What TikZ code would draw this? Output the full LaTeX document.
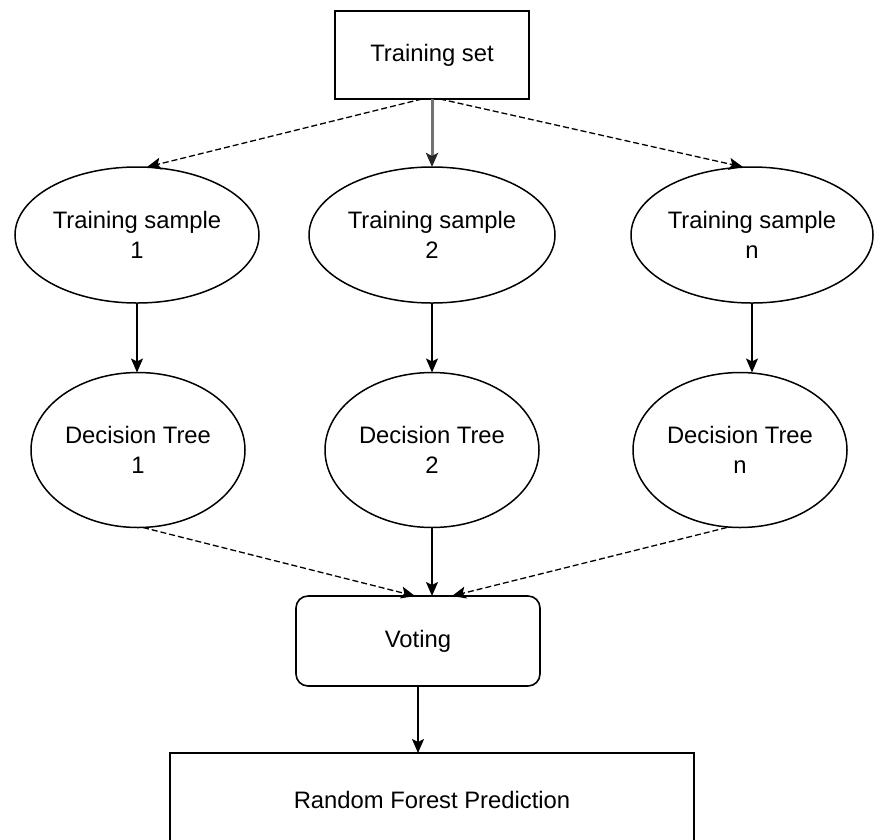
\documentclass[tikz,border=0pt]{standalone}
\usepackage{fontspec}
\setmainfont{Liberation Sans}
\usetikzlibrary{shapes.geometric,arrows.meta}
\begin{document}
\begin{tikzpicture}[x=1pt,y=-1pt,
  every node/.style={font=\fontsize{23.8}{30}\selectfont, align=center, inner sep=0pt, outer sep=0pt},
  boxnode/.style={draw, line width=1.8pt, rectangle},
  ellnode/.style={draw, line width=1.5pt, ellipse},
  tip/.style={-{Stealth[length=14pt,width=12pt,inset=3pt]}},
  dasharrow/.style={tip, line width=1.3pt, dash pattern=on 6pt off 3pt},
  solidarrow/.style={tip, line width=1.4pt},
  grayarrow/.style={-{Stealth[length=14pt,width=12pt,inset=3pt,color=black!85]}, line width=3pt, draw=black!55}
]
\clip (0,0) rectangle (874,839);
\useasboundingbox (0,0) rectangle (874,839);
\fill[white] (0,0) rectangle (874,839);

\node[boxnode, minimum width=194pt, minimum height=88pt] (ts) at (432,55) {Training set};

\node[ellnode, minimum width=244pt, minimum height=136pt] (s1) at (137,235) {Training sample\\1};
\node[ellnode, minimum width=246pt, minimum height=136pt] (s2) at (432,235) {Training sample\\2};
\node[ellnode, minimum width=242pt, minimum height=136pt] (sn) at (752,235) {Training sample\\n};

\node[ellnode, minimum width=214pt, minimum height=155pt] (d1) at (138,450) {Decision Tree\\1};
\node[ellnode, minimum width=214pt, minimum height=155pt] (d2) at (432,450) {Decision Tree\\2};
\node[ellnode, minimum width=214pt, minimum height=155pt] (dn) at (740,450) {Decision Tree\\n};

\node[boxnode, rounded corners=12pt, line width=1.6pt, minimum width=244pt, minimum height=90pt] (vote) at (418,641) {Voting};

\node[boxnode, minimum width=524pt, minimum height=94pt] (rf) at (432,800) {Random Forest Prediction};

% training set to samples
\draw[dasharrow] ([xshift=-10pt]ts.south) -- ([xshift=10pt]s1.north);
\draw[grayarrow] (ts.south) -- (s2.north);
\draw[dasharrow] ([xshift=8pt]ts.south) -- ([xshift=-9pt]sn.north);

% samples to trees
\draw[solidarrow] (s1.south) -- (s1.south |- d1.north);
\draw[solidarrow] (s2.south) -- (d2.north);
\draw[solidarrow] (sn.south) -- (sn.south |- dn.north);

% trees to voting
\draw[dasharrow] ([xshift=5pt]d1.south) -- ([xshift=-3pt]vote.north);
\draw[solidarrow] (d2.south) -- (d2.south |- vote.north);
\draw[dasharrow] ([xshift=-13pt]dn.south) -- ([xshift=34pt]vote.north);

% voting to prediction
\draw[solidarrow] (vote.south) -- (vote.south |- rf.north);
\end{tikzpicture}
\end{document}
